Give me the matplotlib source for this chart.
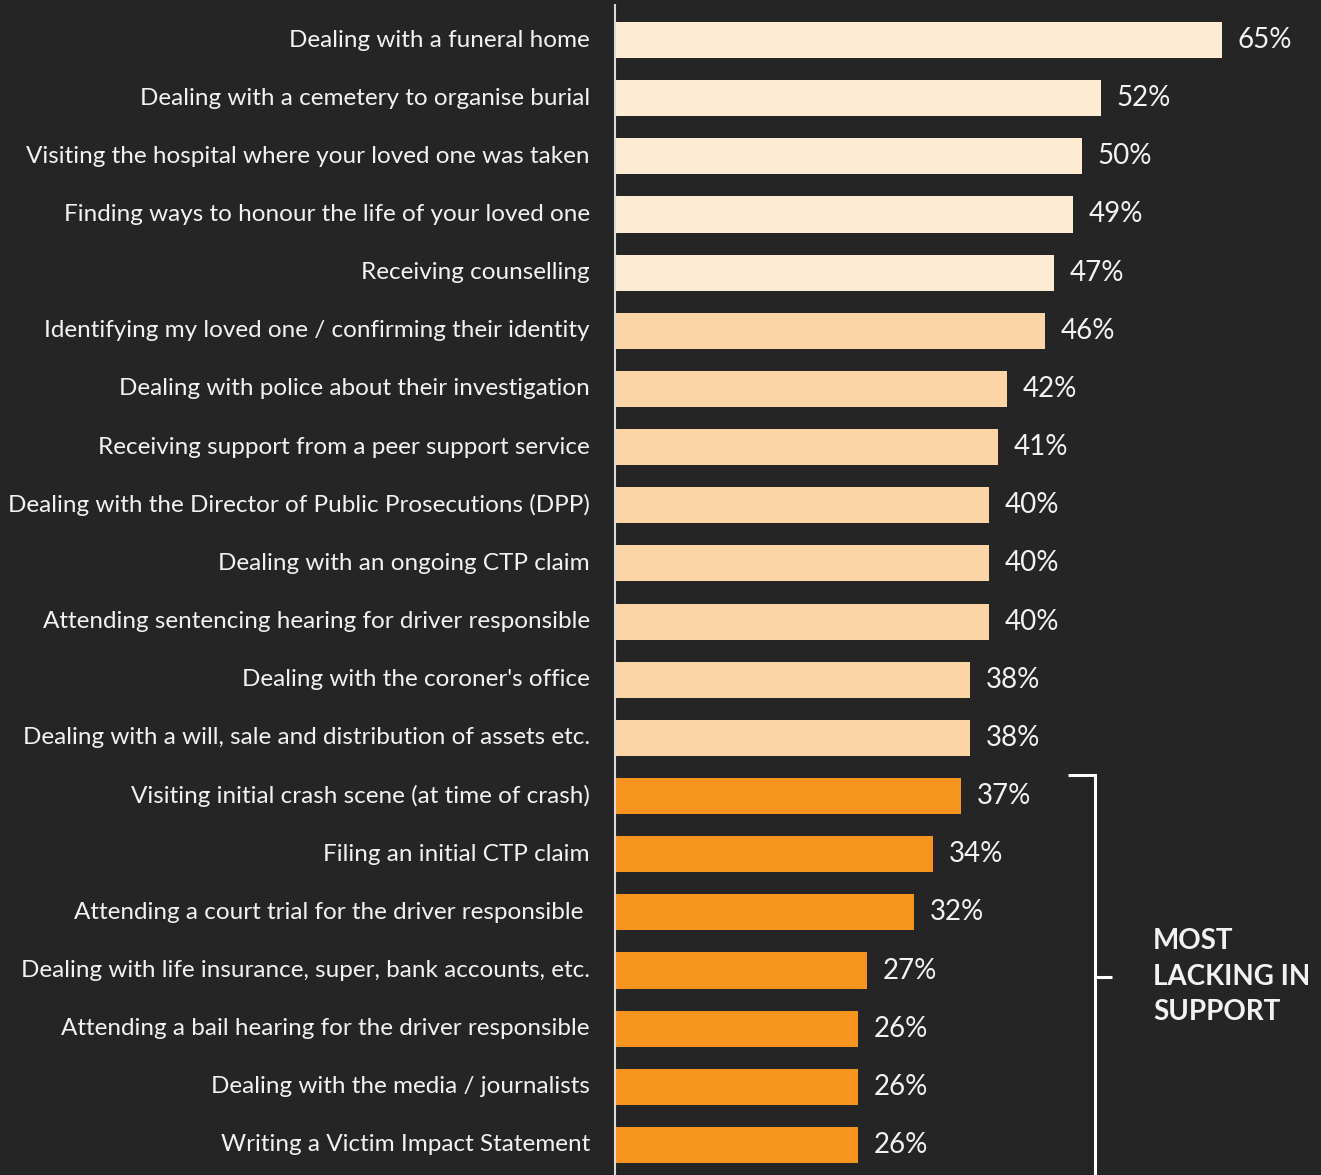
import matplotlib
matplotlib.use("Agg")
import matplotlib.pyplot as plt

categories = [
    "Dealing with a funeral home",
    "Dealing with a cemetery to organise burial",
    "Visiting the hospital where your loved one was taken",
    "Finding ways to honour the life of your loved one",
    "Receiving counselling",
    "Identifying my loved one / confirming their identity",
    "Dealing with police about their investigation",
    "Receiving support from a peer support service",
    "Dealing with the Director of Public Prosecutions (DPP)",
    "Dealing with an ongoing CTP claim",
    "Attending sentencing hearing for driver responsible",
    "Dealing with the coroner's office",
    "Dealing with a will, sale and distribution of assets etc.",
    "Visiting initial crash scene (at time of crash)",
    "Filing an initial CTP claim",
    "Attending a court trial for the driver responsible ",
    "Dealing with life insurance, super, bank accounts, etc.",
    "Attending a bail hearing for the driver responsible",
    "Dealing with the media / journalists",
    "Writing a Victim Impact Statement",
]
values = [65, 52, 50, 49, 47, 46, 42, 41, 40, 40, 40, 38, 38, 37, 34, 32, 27, 26, 26, 26]
group = [0] * 5 + [1] * 8 + [2] * 7
group_colors = ["#FDEBD4", "#FBD5A6", "#F7941D"]

BG = "#252525"
TXT = "#F2F2F2"
FONT = "Lato"

fig = plt.figure(figsize=(13.21, 11.75), dpi=100, facecolor=BG)
ax = fig.add_axes([615 / 1321, 0, 1 - 615 / 1321, 1])
ax.set_facecolor(BG)

n = len(categories)
ypos = list(range(n))
ax.barh(ypos, values, height=0.62, color=[group_colors[g] for g in group],
        edgecolor="none", zorder=2)

ax.set_xlim(0, 75.6)
ax.set_ylim(19.516, -0.688)

for y, v, lab in zip(ypos, values, categories):
    ax.text(v + 1.7, y, f"{v}%", va="center", ha="left", color=TXT,
            fontsize=20, family=FONT)
    ax.text(-2.7, y, lab, va="center", ha="right", color=TXT,
            fontsize=17.5, family=FONT)

for s in ["top", "right", "bottom"]:
    ax.spines[s].set_visible(False)
ax.spines["left"].set_color("#D9D9D9")
ax.spines["left"].set_linewidth(1.5)
ax.spines["left"].set_bounds(-0.6, 19.6)
ax.set_xticks([])
ax.set_yticks([])

# bracket marking the lowest-rated items
bx = 51.4
ax.plot([48.5, bx, bx], [12.64, 12.64, 19.6], color="white", lw=2.2,
        clip_on=False, solid_capstyle="butt", solid_joinstyle="miter")
ax.plot([bx, 53.2], [16.11, 16.11], color="white", lw=2.2, clip_on=False,
        solid_capstyle="butt")
ax.text(57.6, 16.11, "MOST\nLACKING IN\nSUPPORT", va="center", ha="left",
        color=TXT, fontsize=20, fontweight="bold", family=FONT,
        linespacing=1.45)

fig.savefig("out.png", dpi=100, facecolor=BG)
